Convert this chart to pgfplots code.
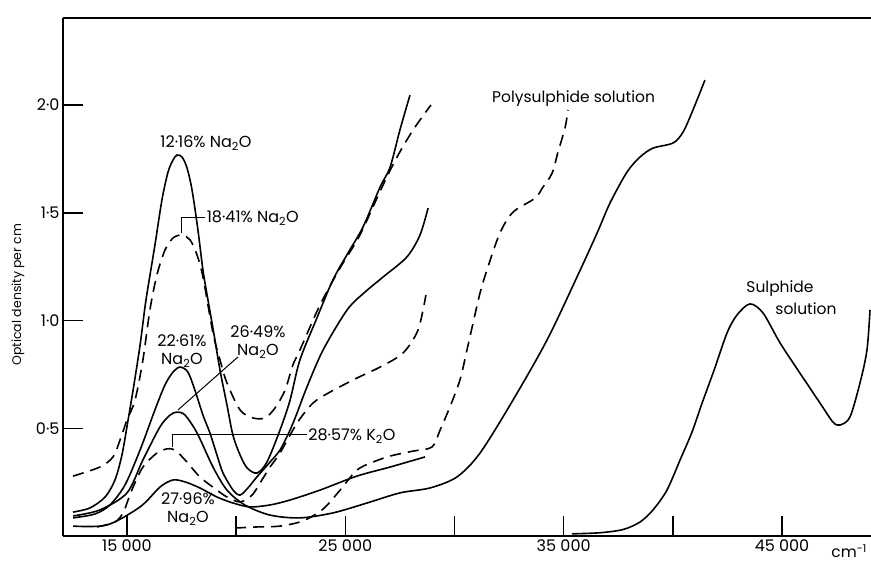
\documentclass[border=0pt]{standalone}
\usepackage{fontspec}
\setmainfont{Poppins}
\usepackage{pgfplots}
\pgfplotsset{compat=1.18}
\tikzset{lab/.style={font=\fontsize{15.5}{19}\selectfont, inner sep=0pt},
  labn/.style={font=\fontsize{16}{18}\selectfont, inner sep=0pt}}
\begin{document}
\begin{tikzpicture}
\begin{axis}[
  scale only axis, width=808pt, height=518pt,
  xmin=12070, xmax=49075, ymin=0, ymax=2.404,
  axis x line*=box, axis y line*=left,
  xtick={15000,20000,25000,30000,35000,40000,45000},
  xticklabels={15\ 000,,25\ 000,,35\ 000,,45\ 000},
  ytick={0.5,1,1.5,2}, yticklabels={0·5,1·0,1·5,2·0},
  xtick pos=left, ytick pos=left,
  tick align=inside, major tick length=20pt,
  tick style={line width=1.5pt, black},
  axis line style={line width=1.5pt},
  ticklabel style={font=\fontsize{16}{18}\selectfont},
  clip=false, scaled x ticks=false,
  cycle list={{black}},
  every axis plot/.append style={line width=1.6pt, black, no marks, smooth, tension=0.5},
  dsh/.style={dash pattern=on 11pt off 7pt},
]
\coordinate (ll) at (rel axis cs:0,0);
\coordinate (ur) at (rel axis cs:1,1);
% 12.16% Na2O
\addplot[solid] coordinates {(12530,0.111) (13300,0.130) (14000,0.181) (14450,0.260) (14770,0.376) (15050,0.538) (15280,0.677) (15600,0.886) (15870,1.095) (16280,1.350) (16600,1.559) (16880,1.689) (17110,1.745) (17290,1.768) (17520,1.759) (17750,1.708) (17980,1.606) (18250,1.420) (18480,1.234) (18710,1.095) (18990,0.933) (19260,0.770) (19580,0.608) (19850,0.469) (20180,0.376) (20500,0.316) (20950,0.292) (21410,0.343) (22010,0.492) (22470,0.631) (22920,0.817) (23700,1.012) (24430,1.188) (25120,1.313) (25810,1.434) (26590,1.619) (27050,1.712) (27500,1.884) (27960,2.046)};
% 18.41% Na2O
\addplot[dsh] coordinates {(12530,0.278) (13760,0.320) (14360,0.367) (14680,0.445) (15000,0.538) (15370,0.631) (15730,0.817) (16050,1.049) (16370,1.211) (16740,1.327) (17110,1.383) (17520,1.397) (17890,1.374) (18210,1.304) (18480,1.202) (18940,0.942) (19260,0.817) (19580,0.710) (20180,0.585) (20770,0.548) (21320,0.548) (21780,0.594) (22240,0.677) (22600,0.794) (22920,0.863) (23840,1.072) (24760,1.244) (25670,1.397) (26680,1.619) (27370,1.759) (28100,1.884) (28920,2.000)};
% 22.61% Na2O
\addplot[solid] coordinates {(12530,0.084) (13530,0.102) (14220,0.144) (14910,0.237) (15600,0.399) (16280,0.585) (16740,0.701) (17110,0.761) (17430,0.784) (17790,0.761) (18110,0.677) (18480,0.561) (18800,0.478) (19120,0.376) (19400,0.292) (19860,0.213) (20180,0.190) (20540,0.223) (20950,0.274) (21550,0.343) (22010,0.399) (22470,0.492) (22790,0.571) (23240,0.691) (23980,0.863) (25080,1.049) (25900,1.132) (26730,1.202) (27820,1.295) (28420,1.397) (28790,1.522)};
% 26.49% Na2O
\addplot[solid] coordinates {(12530,0.093) (13760,0.121) (15000,0.200) (15730,0.353) (16510,0.506) (16970,0.561) (17290,0.575) (17660,0.561) (18210,0.478) (18940,0.320) (19580,0.213) (20400,0.144) (21550,0.097) (22920,0.084) (24430,0.107) (25990,0.153) (27500,0.200) (28880,0.223) (30110,0.274) (31170,0.385) (32680,0.631) (34240,0.910) (35610,1.202) (36530,1.406) (37120,1.545) (37900,1.689) (38500,1.759) (39090,1.800) (40010,1.824) (40470,1.875) (40920,1.977) (41470,2.116)};
% 28.57% K2O
\addplot[dsh] coordinates {(13630,0.042) (14450,0.065) (14820,0.107) (15050,0.167) (15280,0.227) (15730,0.320) (16370,0.385) (16830,0.404) (17200,0.399) (17750,0.343) (18340,0.274) (19120,0.213) (19580,0.181) (20180,0.158) (20730,0.190) (21180,0.260) (21550,0.320) (22010,0.385) (22790,0.524) (23520,0.617) (24300,0.668) (25530,0.733) (26590,0.784) (27640,0.849) (28330,0.956) (28690,1.118)};
% 27.96% Na2O
\addplot[solid] coordinates {(12530,0.046) (14080,0.051) (15600,0.135) (16510,0.227) (17110,0.260) (17660,0.251) (18340,0.223) (19120,0.181) (19860,0.153) (20630,0.135) (21550,0.144) (22470,0.167) (23840,0.213) (25530,0.278) (27050,0.320) (28650,0.367)};
% Polysulphide solution
\addplot[dsh] coordinates {(19950,0.037) (20950,0.042) (22010,0.046) (23060,0.070) (23980,0.125) (24760,0.213) (25530,0.306) (26270,0.343) (27050,0.371) (28100,0.394) (28970,0.413) (29340,0.492) (29790,0.599) (30250,0.724) (30570,0.863) (30850,0.988) (31170,1.128) (31530,1.248) (32080,1.406) (32680,1.503) (33690,1.568) (34050,1.619) (34470,1.684) (34740,1.782) (35060,1.893) (35200,1.977)};
% Sulphide solution
\addplot[solid] coordinates {(35380,0.010) (36660,0.015) (37720,0.030) (38500,0.065) (39090,0.121) (39730,0.213) (40370,0.362) (40880,0.483) (41340,0.617) (41890,0.770) (42480,0.942) (42940,1.026) (43530,1.077) (44130,1.035) (44910,0.896) (45820,0.756) (46740,0.617) (47330,0.529) (47650,0.515) (48110,0.552) (48570,0.710) (48890,0.863) (49030,1.049)};
% leader lines
\draw[line width=1pt] (axis cs:17519,1.406) -- (axis cs:17519,1.480) -- (axis cs:18572,1.480);
\draw[line width=1pt] (axis cs:17336,0.585) -- (axis cs:20084,0.831);
\draw[line width=1pt] (axis cs:17107,0.413) -- (axis cs:17107,0.469) -- (axis cs:23244,0.469);
% labels
\node[labn] at (axis cs:18618,1.824) {12·16\% Na\textsubscript{2}O};
\node[labn, anchor=west] at (axis cs:18650,1.476) {18·41\% Na\textsubscript{2}O};
\node[labn, align=center] at (axis cs:17519,0.858) {22·61\%\\Na\textsubscript{2}O};
\node[labn, align=center] at (axis cs:21000,0.900) {26·49\%\\Na\textsubscript{2}O};
\node[labn, anchor=west] at (axis cs:23300,0.464) {28·57\% K\textsubscript{2}O};
\node[labn, align=center] at (axis cs:17794,0.125) {27·96\%\\Na\textsubscript{2}O};
\node[lab, anchor=west] at (axis cs:31717,2.032) {Polysulphide solution};
\node[lab] at (axis cs:44907,1.146) {Sulphide};
\node[lab] at (axis cs:46098,1.053) {solution};
\node[lab, anchor=base] at ([yshift=-22pt]axis cs:48070,0) {cm\textsuperscript{-1}};
\node[font=\fontsize{12.5}{15}\selectfont, inner sep=0pt, rotate=90] at ([xshift=-45pt]axis cs:12070,1.12) {Optical density per cm};
\end{axis}
\pgfresetboundingbox
\path[use as bounding box] ([shift={(-63pt,-27pt)}]ll) rectangle ([shift={(0pt,18pt)}]ur);
\end{tikzpicture}
\end{document}
